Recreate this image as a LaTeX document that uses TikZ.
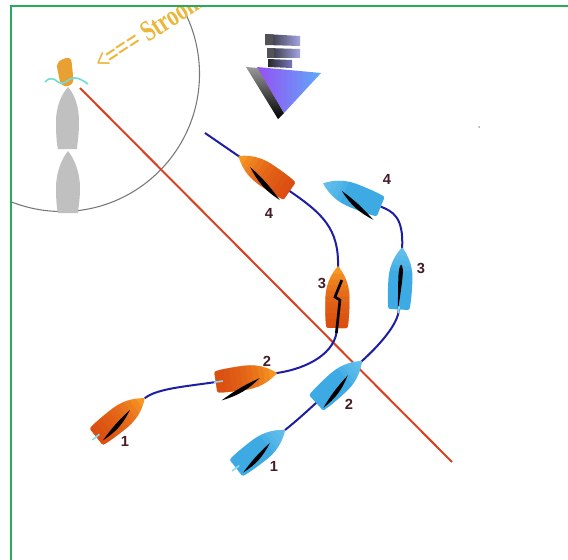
\documentclass[tikz,border=0pt]{standalone}
\usepackage{fontspec}
\setmainfont{Liberation Serif}
\setsansfont{Liberation Sans}
\usetikzlibrary{calc}

\definecolor{framegreen}{RGB}{40,170,90}
\definecolor{circlegray}{RGB}{120,120,120}
\definecolor{figuregray}{RGB}{192,192,192}
\definecolor{postorange}{RGB}{232,160,50}
\definecolor{wavecyan}{RGB}{110,220,215}
\definecolor{stroomgold}{RGB}{236,182,56}
\definecolor{layline}{RGB}{214,66,34}
\definecolor{trackblue}{RGB}{30,30,165}
\definecolor{ostern}{RGB}{215,60,15}
\definecolor{obow}{RGB}{246,150,35}
\definecolor{bhull}{RGB}{62,170,228}
\definecolor{bhulllight}{RGB}{120,205,240}
\definecolor{tillercyan}{RGB}{140,220,240}
\definecolor{numdark}{RGB}{70,28,38}
\definecolor{icondark}{RGB}{40,40,44}
\definecolor{iconlav}{RGB}{165,165,228}
\definecolor{iconmid}{RGB}{120,120,190}
\definecolor{iconviolet}{RGB}{150,80,242}
\definecolor{iconblue}{RGB}{95,170,250}

\tikzset{
  track/.style={draw=trackblue, line width=1.5pt},
  sailfill/.style={fill=black},
  tiller/.style={draw=tillercyan, line width=1.2pt},
  num/.style={font=\sffamily\bfseries\fontsize{11}{12}\selectfont, text=numdark, inner sep=0pt},
}

% outline of a hull, bow towards +x, 62 units long
\newcommand\hullpath{(31,0) .. controls (25,5) and (15,11.5) .. (0,12)
  .. controls (-14,12.2) and (-27,11.5) .. (-30,10.5)
  .. controls (-31,10) and (-31,9.5) .. (-31,9) -- (-31,-9)
  .. controls (-31,-9.5) and (-31,-10) .. (-30,-10.5)
  .. controls (-27,-11.5) and (-14,-12.2) .. (0,-12)
  .. controls (15,-11.5) and (25,-5) .. (31,0) -- cycle}

% named bow/stern points of a boat: name, x, y, heading
\newcommand\boatpos[4]{%
  \begin{scope}[shift={(#2,#3)},rotate=#4]
    \coordinate (#1-bow) at (31,0);
    \coordinate (#1-stern) at (-31,0);
  \end{scope}}

% orange hull, darker towards the stern: x, y, heading, rigging
\newcommand\orangeboat[4]{%
  \begin{scope}[shift={(#1,#2)},rotate=#3]
    \fill[obow] \hullpath;
    \begin{scope}
      \clip \hullpath;
      \foreach \k in {1,...,10} \fill[ostern, opacity=0.14] (-33,-14) rectangle ({-33+\k*5.6},14);
    \end{scope}
    #4
  \end{scope}}

% blue hull, lighter towards the bow: x, y, heading, rigging
\newcommand\blueboat[4]{%
  \begin{scope}[shift={(#1,#2)},rotate=#3]
    \fill[bhull] \hullpath;
    \begin{scope}
      \clip \hullpath;
      \foreach \k in {1,...,5} \fill[bhulllight, opacity=0.2] ({33-\k*5},-14) rectangle (33,14);
    \end{scope}
    #4
  \end{scope}}

\begin{document}
\begin{tikzpicture}[x=0.75pt,y=-0.75pt]
\useasboundingbox (0,0) rectangle (568,560);
\fill[white] (0,0) rectangle (568,560);

% mark, circle and current label, kept inside the frame
\begin{scope}
  \clip (11,6) rectangle (568,560);
  \draw[circlegray, line width=0.8pt] (62,74) circle (137.5);
  \node[text=stroomgold, rotate=33, anchor=base west, inner sep=0pt,
        font=\bfseries\fontsize{22}{24}\selectfont] (stroom) at (102,73)
        {\scalebox{0.74}[1]{<=== Stroom}};
\end{scope}

% committee boat seen from above
\fill[figuregray] (68,87) .. controls (75,95) and (79,107) .. (79,122)
  .. controls (79,137) and (77,145) .. (77,149) -- (58,149)
  .. controls (57,145) and (56,137) .. (56,122)
  .. controls (56,107) and (61,95) .. (68,87) -- cycle;
\fill[figuregray] (68,151) .. controls (75,160) and (80,173) .. (80,188)
  .. controls (80,201) and (78,209) .. (78,213) -- (58,213)
  .. controls (57,209) and (56,201) .. (56,188)
  .. controls (56,173) and (61,160) .. (68,151) -- cycle;
\fill[postorange, rounded corners=4.5] (56,62) -- (71,56) -- (74,85) -- (61,87) -- cycle;
\draw[wavecyan, line width=1.2pt] (45,82) .. controls (49,77) and (54,78) .. (58,82)
  .. controls (62,85) and (66,82) .. (70,79) .. controls (75,76) and (81,79) .. (88,84);

% starting line
\coordinate (line-a) at (80,88);
\coordinate (line-b) at (452,462);
\draw[layline, line width=1.5pt] (line-a) -- (line-b);

% wind icon
\shade[left color=icondark, right color=iconlav] (265,34) -- (300,36) -- (300,46) -- (265,45) -- cycle;
\fill[icondark!80] (265,34) -- (273,34.5) -- (273,45) -- (265,45) -- cycle;
\shade[left color=icondark, right color=iconlav] (267,48) -- (300,49) -- (300,58) -- (267,58) -- cycle;
\fill[icondark!80] (267,48) -- (274,48.3) -- (274,58) -- (267,58) -- cycle;
\shade[left color=icondark, right color=iconmid] (268,59) -- (292,60) -- (292,68) -- (268,67) -- cycle;
\shade[top color=gray!80, bottom color=black] (246,67) -- (258,68) -- (284,113) -- (278,119) -- cycle;
\shade[left color=iconviolet, right color=iconblue] (257,67) -- (321,73) -- (284,113) -- cycle;

% stray dot
\fill[gray!70] (479,127) circle (1);

% boat positions
\boatpos{o1}{120.5}{417.5}{38.5}
\boatpos{o2}{246.5}{377.5}{8.4}
\boatpos{o3}{337.5}{297}{89}
\boatpos{o4}{264}{173.5}{145.6}
\boatpos{b1}{260.5}{449}{37.8}
\boatpos{b2}{339}{382}{42.4}
\boatpos{b3}{400.5}{278.5}{87}
\boatpos{b4}{352}{195}{158}
\coordinate (o-end) at (205,133);

% tracks
\draw[track] (o1-bow)
  .. controls ($(o1-bow)!-0.25!(o1-stern)$) and ($(o2-stern)!-0.5!(o2-bow)$) .. (o2-stern)
  -- (o2-bow)
  .. controls ($(o2-bow)!-0.5!(o2-stern)$) and ($(o3-stern)!-0.4!(o3-bow)$) .. (o3-stern)
  -- (o3-bow)
  .. controls ($(o3-bow)!-0.6!(o3-stern)$) and ($(o4-stern)!-0.65!(o4-bow)$) .. (o4-stern)
  -- (o4-bow) -- (o-end);
\draw[track] (b1-bow)
  .. controls ($(b1-bow)!-0.2!(b1-stern)$) and ($(b2-stern)!-0.2!(b2-bow)$) .. (b2-stern)
  -- (b2-bow)
  .. controls ($(b2-bow)!-0.35!(b2-stern)$) and ($(b3-stern)!-0.25!(b3-bow)$) .. (b3-stern)
  -- (b3-bow)
  .. controls ($(b3-bow)!-0.5!(b3-stern)$) and ($(b4-stern)!-0.2!(b4-bow)$) .. (b4-stern);

% boats
\orangeboat{120.5}{417.5}{38.5}{%
  \fill[sailfill] (12,0) to[bend left=15] (-28,7) to[bend left=6] (12,0);
  \draw[tiller] (-27,0) -- (-36,0);}
\orangeboat{246.5}{377.5}{8.4}{%
  \fill[sailfill] (13,2.5) to[bend left=14] (-28,19) to[bend left=6] (13,2.5);
  \draw[tiller] (-24,0) -- (-33,0);}
\orangeboat{337.5}{297}{89}{%
  \draw[black, line width=2pt, line join=miter] (17,4) -- (0,-2.5) -- (-3,2.5) -- (-36,-0.5);}
\orangeboat{264}{173.5}{145.6}{%
  \fill[sailfill] (15,-2.5) to[bend left=-15] (-28,-13) to[bend left=-6] (15,-2.5);}
\blueboat{260.5}{449}{37.8}{%
  \fill[sailfill] (11,1) to[bend left=15] (-28,8) to[bend left=6] (11,1);
  \draw[tiller] (-27,0) -- (-36,0);}
\blueboat{339}{382}{42.4}{%
  \fill[sailfill] (11,1) to[bend left=15] (-29,8.5) to[bend left=6] (11,1);}
\blueboat{400.5}{278.5}{87}{%
  \fill[sailfill] (14,0) .. controls (10,3.5) and (0,2) .. (-34,-1)
    .. controls (0,-2) and (10,-3.5) .. (14,0) -- cycle;
  \draw[tiller] (-28,0) -- (-35,0);}
\blueboat{352}{195}{158}{%
  \fill[sailfill] (11,0) to[bend left=-15] (-29,-15) to[bend left=-6] (11,0);}

% numbers
\node[num] (n-o1) at (125,441) {1};
\node[num] (n-o2) at (267,361) {2};
\node[num] (n-o3) at (322,283) {3};
\node[num] (n-o4) at (269,213) {4};
\node[num] (n-b1) at (274,466) {1};
\node[num] (n-b2) at (349,404) {2};
\node[num] (n-b3) at (421,268) {3};
\node[num] (n-b4) at (387,179) {4};

% frame
\draw[framegreen, line width=1.5pt] (568,6) -- (11,6) -- (11,560);
\end{tikzpicture}
\end{document}
